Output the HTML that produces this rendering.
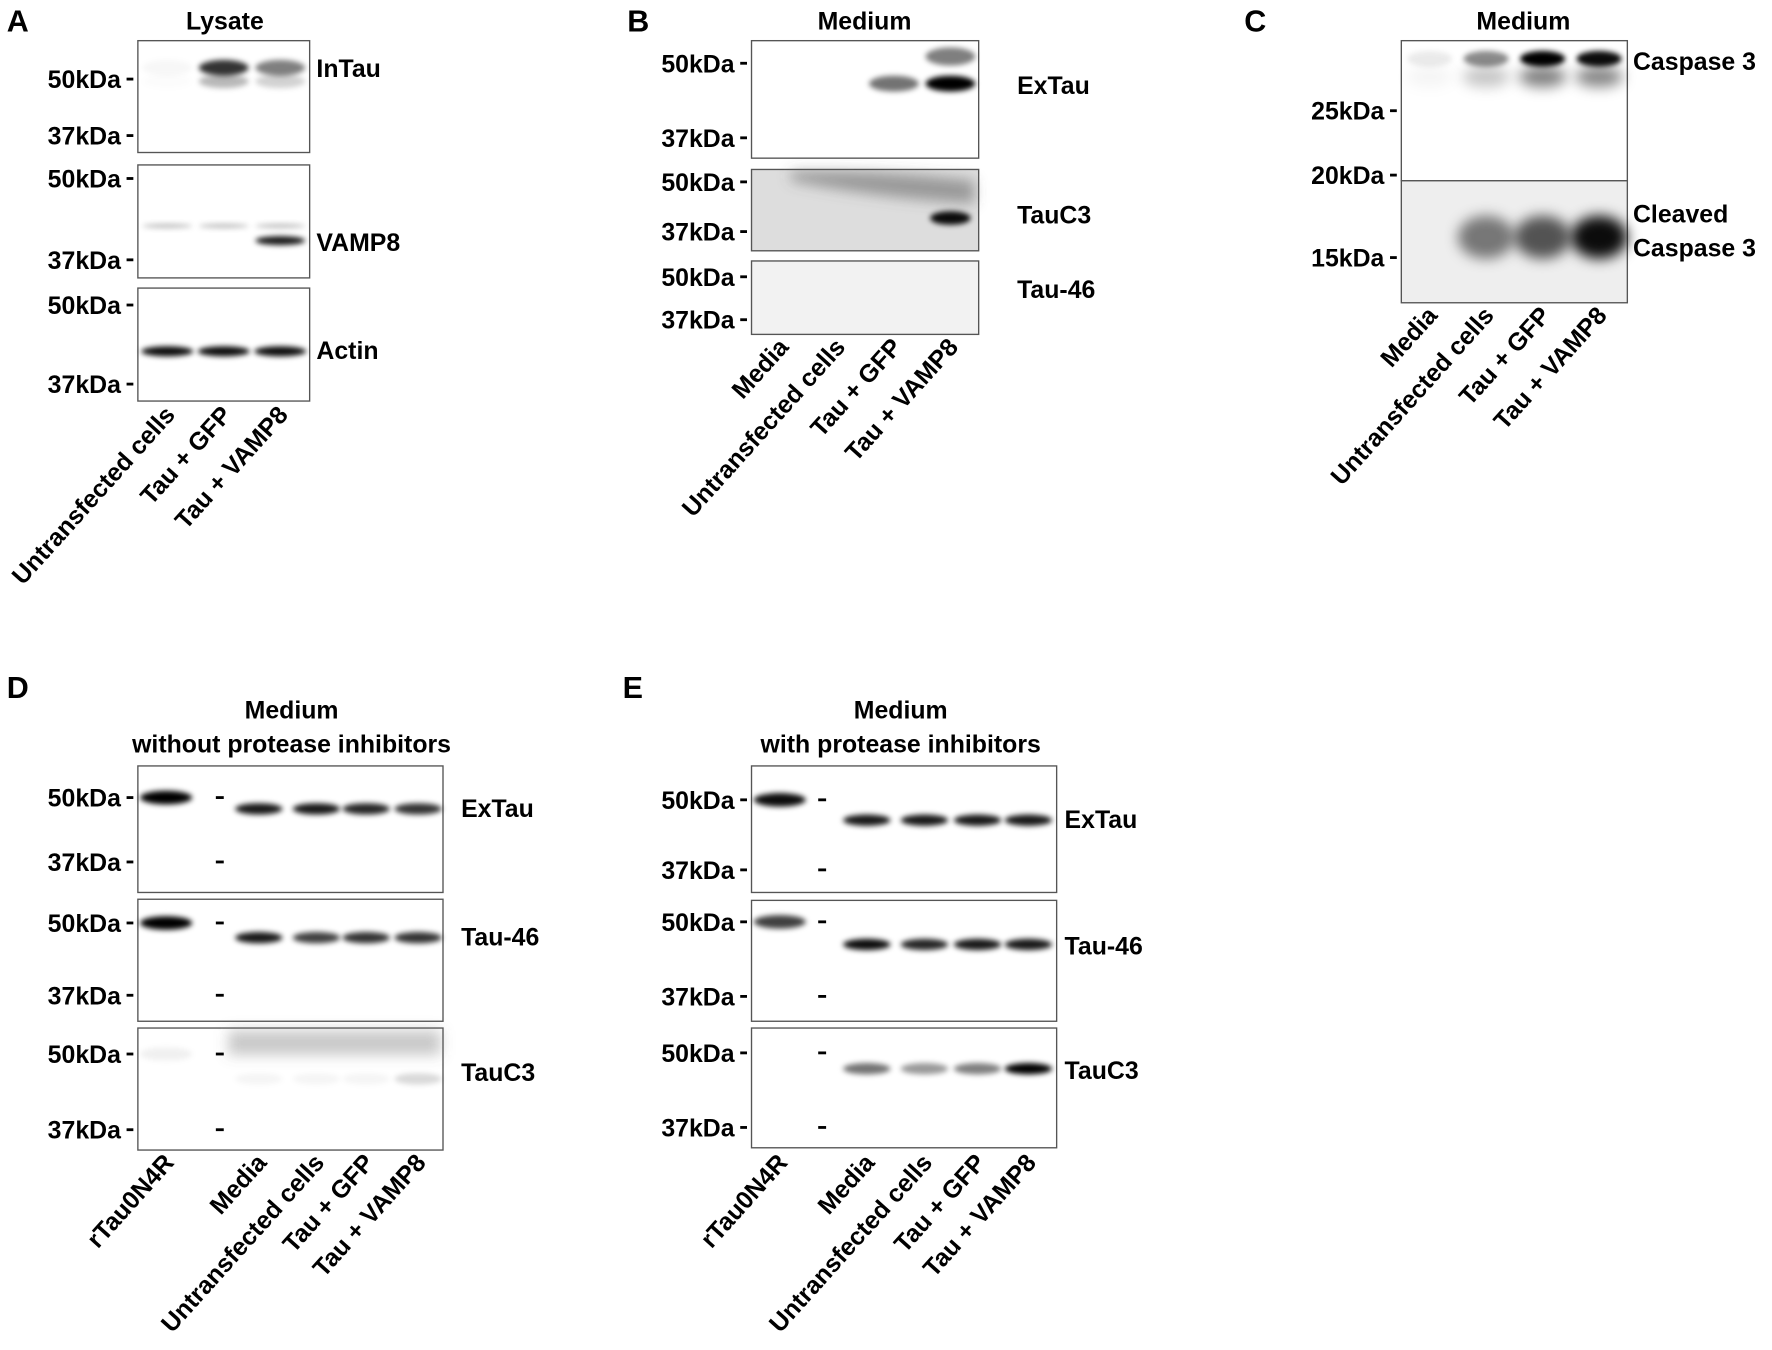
<!DOCTYPE html>
<html><head><meta charset="utf-8"><style>
html,body{margin:0;padding:0;background:#fff;}
svg{display:block;}
text{font-family:"Liberation Sans",Arial,sans-serif;font-weight:bold;fill:#000;}
</style></head><body>
<svg id="fig" width="1772" height="1350" viewBox="0 0 1568 1195" preserveAspectRatio="none" xmlns="http://www.w3.org/2000/svg">
<defs>
<filter id="blur3" x="-50%" y="-100%" width="200%" height="300%"><feGaussianBlur stdDeviation="2.4"/></filter>
<filter id="blur6" x="-50%" y="-100%" width="200%" height="300%"><feGaussianBlur stdDeviation="6"/></filter>
</defs>
<g id="root"></g>
</svg>
<script>
// Lane labels
const lanesA = ["Untransfected cells","Tau + GFP","Tau + VAMP8"];
const lanesB = ["Media","Untransfected cells","Tau + GFP","Tau + VAMP8"];
const lanesDE = ["rTau0N4R","","Media","Untransfected cells","Tau + GFP","Tau + VAMP8"];
// Band intensities (0..1) per lane
const inTau = [0.03, 0.8, 0.5];
const vamp8Upper = [0.25, 0.25, 0.25];
const vamp8Lower = [0, 0, 0.9];
const actin = [0.95, 0.95, 0.95];
const bExTau = [0, 0, 0.55, 1.0];
const bTauC3 = [0, 0, 0, 0.95];
const cCasp = [0.08, 0.45, 1.0, 0.95];
const cCleaved = [0, 0.5, 0.65, 0.95];
const dExTau = [1.0, 0, 0.9, 0.9, 0.85, 0.8];
const dTau46 = [1.0, 0, 0.9, 0.75, 0.8, 0.8];
const dTauC3 = [0.06, 0, 0.04, 0.04, 0.04, 0.15];
const eExTau = [0.95, 0, 0.9, 0.9, 0.9, 0.9];
const eTau46 = [0.75, 0, 0.95, 0.85, 0.9, 0.9];
const eTauC3 = [0, 0, 0.55, 0.4, 0.5, 1.0];

const NS = "http://www.w3.org/2000/svg";
const root = document.getElementById("root");
const FS = 22;
function mk(tag, attrs, parent){
  const e = document.createElementNS(NS, tag);
  for (const k in attrs) e.setAttribute(k, attrs[k]);
  (parent||root).appendChild(e);
  return e;
}
function txt(x,y,s,size,anchor,name){
  const t = mk("text",{x:x,y:y,"font-size":size,"text-anchor":anchor||"start"});
  t.textContent = s;
  
  
  return t;
}
function box(x,y,w,h,name,bg){
  const r = mk("rect",{x:x,y:y,width:w,height:h,fill:bg||"#fff",stroke:"#555","stroke-width":1.2});
  
  
  return r;
}
function marker(xr,y,label,name){
  txt(xr-15,y+8,label,FS,"end",name);
  const l = mk("line",{x1:xr-10,y1:y,x2:xr-4,y2:y,stroke:"#000","stroke-width":2.5});
  
  
}
function bands(xs, vals, y, w, h, blur, name){
  vals.forEach((v,i)=>{
    if (v<=0) return;
    const e = mk("ellipse",{cx:xs[i],cy:y,rx:w/2,ry:h/2,fill:"#000","fill-opacity":Math.min(1,v),filter:"url(#"+blur+")"});
    
    
  });
}
function laneLabels(xs, labels, y, name){
  labels.forEach((s,i)=>{
    if(!s) return;
    const t = mk("text",{x:0,y:0,"font-size":FS,"text-anchor":"end",transform:"translate("+(xs[i]+8)+","+y+") rotate(-48)"});
    t.textContent = s;
    
    
  });
}

// ---------- Panel A ----------
txt(6,28,"A",27,"start","panel-a-letter");
txt(199,26,"Lysate",FS,"middle","panel-a-title");
const xA = [148,198,248];
box(122,36,152,99,"intau-blot");
bands(xA, inTau, 60, 44, 14, "blur3", "intau-band");
bands(xA, inTau.map(v=>v*0.35), 72, 44, 12, "blur3", "intau-lower");
marker(122,70,"50kDa","marker-a1-50"); marker(122,120,"37kDa","marker-a1-37");
txt(280,68,"InTau",FS,"start","intau-label");
box(122,146,152,100,"vamp8-blot");
bands(xA, vamp8Upper, 200, 44, 4, "blur3", "vamp8-upper");
bands(xA, vamp8Lower, 213, 44, 8, "blur3", "vamp8-lower");
marker(122,158,"50kDa","marker-a2-50"); marker(122,230,"37kDa","marker-a2-37");
txt(280,222,"VAMP8",FS,"start","vamp8-label");
box(122,255,152,100,"actin-blot");
bands(xA, actin, 311, 46, 9, "blur3", "actin-band");
marker(122,270,"50kDa","marker-a3-50"); marker(122,340,"37kDa","marker-a3-37");
txt(280,318,"Actin",FS,"start","actin-label");
laneLabels(xA, lanesA, 368, "panel-a");

// ---------- Panel B ----------
txt(555,28,"B",27,"start","panel-b-letter");
txt(765,26,"Medium",FS,"middle","panel-b-title");
const xB = [691,741,791,841];
box(665,36,201,104,"extau-blot-b");
bands(xB, bExTau, 74, 44, 14, "blur3", "extau-b-band");
bands(xB, bExTau.map((v,i)=>i==3?0.5:0), 50, 44, 16, "blur3", "extau-b-upper");
marker(665,56,"50kDa","marker-b1-50"); marker(665,122,"37kDa","marker-b1-37");
txt(900,83,"ExTau",FS,"start","extau-b-label");
box(665,150,201,72,"tauc3-blot-b","#ddd");
const sm = mk("path",{d:"M700 152 Q780 150 862 160 L862 180 Q780 176 700 160 Z",fill:"#555","fill-opacity":0.5,filter:"url(#blur6)"});
 
bands(xB, bTauC3, 193, 36, 12, "blur3", "tauc3-b-band");
marker(665,161,"50kDa","marker-b2-50"); marker(665,205,"37kDa","marker-b2-37");
txt(900,198,"TauC3",FS,"start","tauc3-b-label");
box(665,231,201,65,"tau46-blot-b","#f2f2f2");
marker(665,245,"50kDa","marker-b3-50"); marker(665,283,"37kDa","marker-b3-37");
txt(900,264,"Tau-46",FS,"start","tau46-b-label");
laneLabels(xB, lanesB, 308, "panel-b");

// ---------- Panel C ----------
txt(1101,28,"C",27,"start","panel-c-letter");
txt(1348,26,"Medium",FS,"middle","panel-c-title");
const xC = [1265,1315,1365,1415];
box(1240,36,200,124,"caspase3-blot");
bands(xC, cCasp, 52, 40, 14, "blur3", "caspase3-band");
bands(xC, cCasp.map(v=>v*0.5), 68, 42, 18, "blur6", "caspase3-lower");
box(1240,160,200,108,"cleaved-caspase3-blot","#eee");
bands(xC, cCleaved, 210, 50, 38, "blur6", "cleaved-band");
marker(1240,98,"25kDa","marker-c-25"); marker(1240,155,"20kDa","marker-c-20"); marker(1240,228,"15kDa","marker-c-15");
txt(1445,62,"Caspase 3",FS,"start","caspase3-label");
txt(1445,197,"Cleaved",FS,"start","cleaved-label");
txt(1445,227,"Caspase 3",FS,"start","cleaved-caspase3-label");
laneLabels(xC, lanesB, 280, "panel-c");

// ---------- Panels D & E ----------
function panelDE(x0, letterX, titleX, sub, xs, blots, rows, id){
  txt(letterX,618,id.toUpperCase(),27,"start","panel-"+id+"-letter");
  txt(titleX,636,"Medium",FS,"middle","panel-"+id+"-title");
  txt(titleX,666,sub,FS,"middle","panel-"+id+"-subtitle");
  rows.forEach((r,k)=>{
    box(x0,r.y,270,r.h,r.name+"-blot");
    if (r.smear){
      const s = mk("rect",{x:x0+80,y:r.y+2,width:188,height:22,fill:"#666","fill-opacity":0.35,filter:"url(#blur6)"});
       
    }
    const vals = blots[k];
    bands([xs[0]], [vals[0]], r.m50, 46, 12, "blur3", r.name+"-rtau");
    bands(xs.slice(1), vals.slice(1), r.band, 42, 10, "blur3", r.name+"-band");
    marker(x0,r.m50,"50kDa",r.name+"-marker-50");
    marker(x0,r.m37,"37kDa",r.name+"-marker-37");
    [r.m50,r.m37].forEach(yy=>{const l=mk("line",{x1:xs[1]-4,y1:yy,x2:xs[1]+3,y2:yy,stroke:"#000","stroke-width":2.5});
      
      });
    txt(x0+r.lx,r.ly,r.label,FS,"start",r.name+"-label");
  });
  laneLabels(xs, lanesDE, 1030, "panel-"+id);
}
panelDE(122,6,258,"without protease inhibitors",[147,195,229,280,324,370],
  [dExTau,dTau46,dTauC3],
  [{y:678,h:112,m50:706,m37:763,band:716,label:"ExTau",lx:286,ly:723,name:"extau-d"},
   {y:796,h:108,m50:817,m37:881,band:830,label:"Tau-46",lx:286,ly:837,name:"tau46-d"},
   {y:910,h:108,m50:933,m37:1000,band:955,label:"TauC3",lx:286,ly:957,name:"tauc3-d",smear:true}],"d");
panelDE(665,551,797,"with protease inhibitors",[690,728,767,818,865,910],
  [eExTau,eTau46,eTauC3],
  [{y:678,h:112,m50:708,m37:770,band:726,label:"ExTau",lx:277,ly:733,name:"extau-e"},
   {y:797,h:107,m50:816,m37:882,band:836,label:"Tau-46",lx:277,ly:845,name:"tau46-e"},
   {y:910,h:106,m50:932,m37:998,band:946,label:"TauC3",lx:277,ly:955,name:"tauc3-e"}],"e");
</script>
</body></html>
